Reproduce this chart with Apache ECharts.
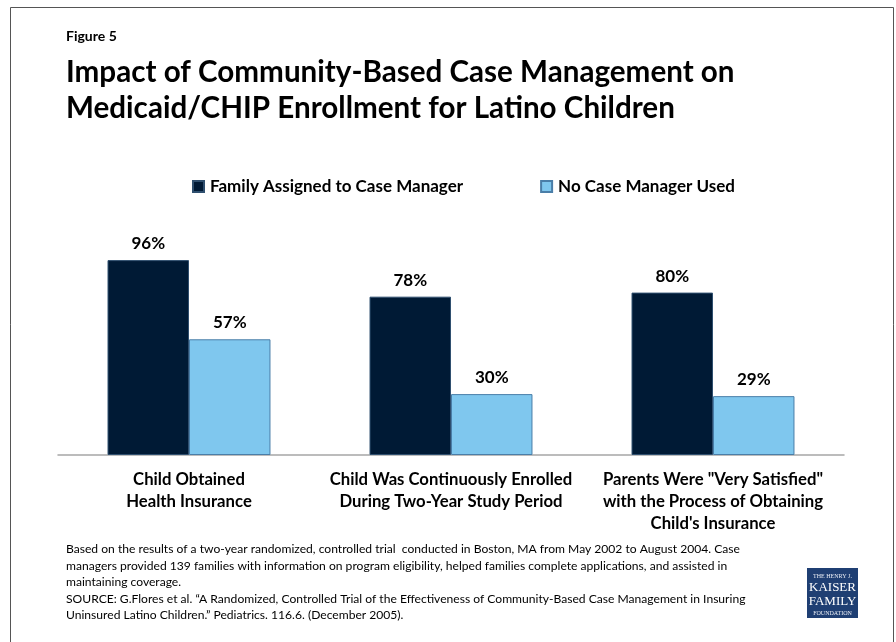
<!DOCTYPE html>
<html><head><meta charset="utf-8">
<script src="https://cdn.jsdelivr.net/npm/echarts@6/dist/echarts.min.js"></script>
<style>html,body{margin:0;padding:0;background:#fff}#c{width:896px;height:642px}</style>
</head><body><div id="c"></div>
<script>
const categories = [
  'Child Obtained\nHealth Insurance',
  'Child Was Continuously Enrolled\nDuring Two-Year Study Period',
  'Parents Were "Very Satisfied"\nwith the Process of Obtaining\nChild\'s Insurance'
];
const seriesNames = ['Family Assigned to Case Manager', 'No Case Manager Used'];
const caseManager = [96, 78, 80];
const noCaseManager = [57, 30, 29];

const FONT = 'Lato';
const chart = echarts.init(document.getElementById('c'), null, {renderer: 'canvas'});
const labelStyle = {show: true, position: 'top', formatter: '{c}%', fontFamily: FONT, fontWeight: 'bold', fontSize: 17, color: '#000', distance: 8};
chart.setOption({
  animation: false,
  backgroundColor: '#fff',
  legend: {
    top: 178, left: 192, padding: 0, itemGap: 77, itemWidth: 11, itemHeight: 11, icon: 'rect',
    textStyle: {fontFamily: FONT, fontWeight: 'bold', fontSize: 17, color: '#000', padding: [0, 0, 0, 1]},
    data: seriesNames
  },
  grid: {left: 58, right: 52, top: 252, bottom: 187},
  xAxis: {
    type: 'category', data: categories,
    axisLine: {lineStyle: {color: '#a6a6a6', width: 1.5}},
    axisTick: {show: false},
    axisLabel: {fontFamily: FONT, fontWeight: 'bold', fontSize: 16.7, color: '#000', lineHeight: 22, margin: 14, interval: 0}
  },
  yAxis: {type: 'value', min: 0, max: 100, show: false, splitLine: {show: false}},
  series: [
    {name: seriesNames[0], type: 'bar', data: caseManager, barGap: '0%', barCategoryGap: '37.8%',
     itemStyle: {color: '#001a35', borderColor: '#2f4f6f', borderWidth: 1}, label: labelStyle},
    {name: seriesNames[1], type: 'bar', data: noCaseManager,
     itemStyle: {color: '#7fc7ee', borderColor: '#4a7ea8', borderWidth: 1}, label: labelStyle}
  ],
  graphic: [
    {type: 'polyline', shape: {points: [[10.5, 642], [10.5, 7.5], [893.5, 7.5], [893.5, 642]]}, style: {stroke: '#555', lineWidth: 1, fill: null}},
    {type: 'text', left: 66, top: 29, style: {text: 'Figure 5', fontFamily: FONT, fontWeight: 'bold', fontSize: 14, fill: '#000'}},
    {type: 'text', left: 66, top: 54, style: {text: 'Impact of Community-Based Case Management on\nMedicaid/CHIP Enrollment for Latino Children', fontFamily: FONT, fontWeight: 'bold', fontSize: 29.6, lineHeight: 36, fill: '#000'}},
    {type: 'text', left: 66, top: 541, style: {text: 'Based on the results of a two-year randomized, controlled trial  conducted in Boston, MA from May 2002 to August 2004. Case\nmanagers provided 139 families with information on program eligibility, helped families complete applications, and assisted in\nmaintaining coverage.\nSOURCE: G.Flores et al. \u201cA Randomized, Controlled Trial of the Effectiveness of Community-Based Case Management in Insuring\nUninsured Latino Children.\u201d Pediatrics. 116.6. (December 2005).', fontFamily: FONT, fontSize: 12.1, lineHeight: 16.5, fill: '#000'}},
    {type: 'rect', shape: {x: 807, y: 568, width: 51, height: 50}, style: {fill: '#1f3f73'}},
    {type: 'text', x: 832.5, y: 573, style: {text: 'THE HENRY J.', fontFamily: 'Liberation Serif', fontSize: 6, fill: '#e8ecf4', align: 'center'}},
    {type: 'text', x: 832.5, y: 581, style: {text: 'KAISER', fontFamily: 'Liberation Serif', fontSize: 13, fill: '#fff', align: 'center'}},
    {type: 'text', x: 832.5, y: 595, style: {text: 'FAMILY', fontFamily: 'Liberation Serif', fontSize: 13, fill: '#fff', align: 'center'}},
    {type: 'text', x: 832.5, y: 610, style: {text: 'FOUNDATION', fontFamily: 'Liberation Serif', fontSize: 6, fill: '#e8ecf4', align: 'center'}}
  ]
});
</script></body></html>
